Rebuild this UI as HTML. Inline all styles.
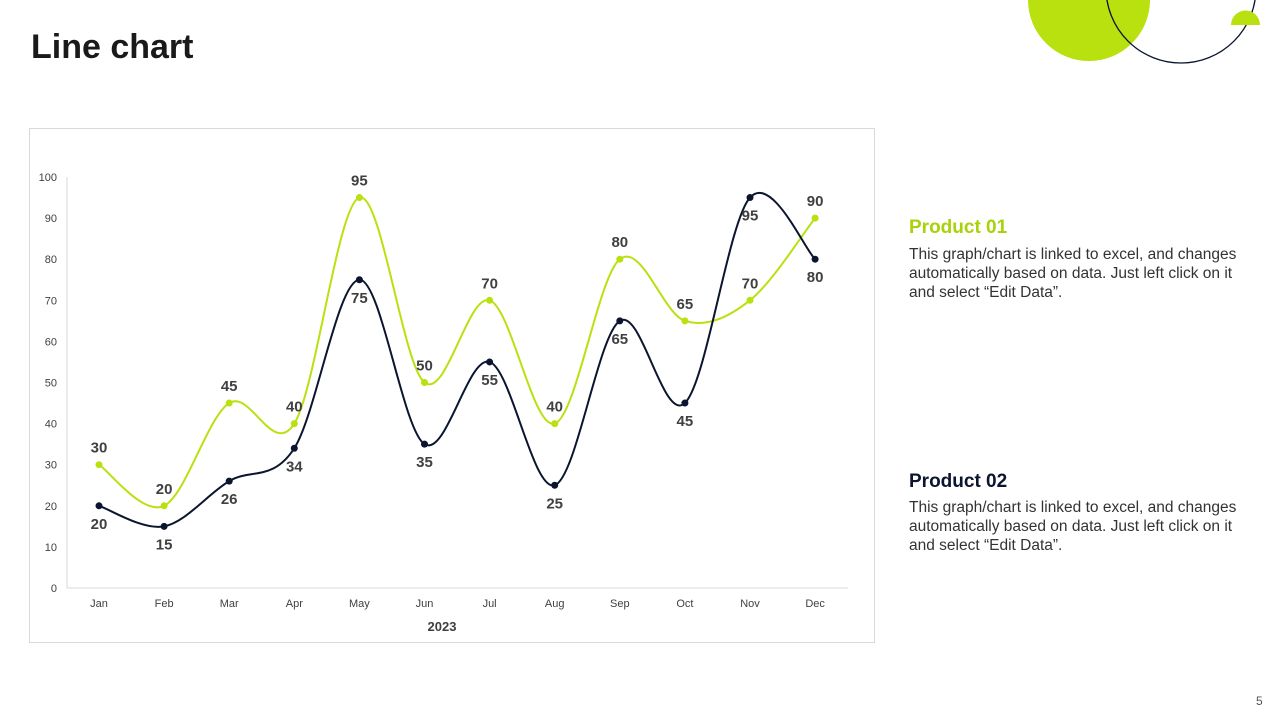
<!DOCTYPE html>
<html><head><meta charset="utf-8"><style>
body{margin:0;width:1280px;height:720px;background:#fff;font-family:"Liberation Sans",sans-serif;position:relative;overflow:hidden}
.t{position:absolute}
</style></head><body>
<svg class="t" style="left:0;top:0" width="1280" height="720">
<circle cx="1089" cy="0" r="61" fill="#b8e10f"/>
<circle cx="1181" cy="-12" r="75" fill="none" stroke="#0b1530" stroke-width="1.3"/>
<path d="M1231,25 A14.5,14.5 0 0 1 1260,25 Z" fill="#b8e10f"/>
</svg>
<div class="t" style="left:31px;top:28px;font-size:34px;font-weight:bold;color:#1a1a1a">Line chart</div>
<div class="t" style="left:29px;top:128px;width:846px;height:515px;border:1px solid #d9d9d9;box-sizing:border-box"></div>
<svg id="chart" class="t" style="left:0;top:0" width="1280" height="720"></svg>
<div class="t" style="left:909px;top:217px;font-size:19px;font-weight:bold;color:#a8d20a">Product 01</div>
<div class="t" style="left:909px;top:245px;width:345px;font-size:15.5px;line-height:19px;color:#333">This graph/chart is linked to excel, and changes automatically based on data. Just left click on it and select “Edit Data”.</div>
<div class="t" style="left:909px;top:471px;font-size:19px;font-weight:bold;color:#0b1530">Product 02</div>
<div class="t" style="left:909px;top:498px;width:345px;font-size:15.5px;line-height:19px;color:#333">This graph/chart is linked to excel, and changes automatically based on data. Just left click on it and select “Edit Data”.</div>
<div class="t" style="left:1256px;top:694px;font-size:12px;color:#555">5</div>
<script>
const categories=["Jan","Feb","Mar","Apr","May","Jun","Jul","Aug","Sep","Oct","Nov","Dec"];
const product01=[30,20,45,40,95,50,70,40,80,65,70,90];
const product02=[20,15,26,34,75,35,55,25,65,45,95,80];
const yTicks=[0,10,20,30,40,50,60,70,80,90,100];
const NS="http://www.w3.org/2000/svg";
const svg=document.getElementById('chart');
const X0=99,DX=65.1,Y0=588,YS=4.11;
const x=i=>X0+i*DX, y=v=>Y0-v*YS;
function el(t,a,txt){const e=document.createElementNS(NS,t);for(const k in a)e.setAttribute(k,a[k]);if(txt!=null)e.textContent=txt;svg.appendChild(e);return e;}
let e=el('line',{x1:67,x2:848,y1:588,y2:588,stroke:'#d9d9d9'});


e=el('line',{x1:67,x2:67,y1:177,y2:588,stroke:'#d9d9d9'});


yTicks.forEach(v=>{const t=el('text',{x:57,y:y(v)+4,'text-anchor':'end','font-size':11,fill:'#404040'},v);

});
categories.forEach((c,i)=>{const t=el('text',{x:x(i),y:607,'text-anchor':'middle','font-size':11,fill:'#404040'},c);

});
e=el('text',{x:442,y:631,'text-anchor':'middle','font-size':13,'font-weight':'bold',fill:'#404040'},'2023');


function path(vals){const p=vals.map((v,i)=>[x(i),y(v)]);let d=`M${p[0][0]},${p[0][1]}`;const k=0.5/3*2;
for(let i=0;i<p.length-1;i++){const a=p[Math.max(i-1,0)],b=p[i],c=p[i+1],n=p[Math.min(i+2,p.length-1)];
d+=` C${b[0]+(c[0]-a[0])*k/2},${b[1]+(c[1]-a[1])*k/2} ${c[0]-(n[0]-b[0])*k/2},${c[1]-(n[1]-b[1])*k/2} ${c[0]},${c[1]}`;}return d;}
function series(vals,col,name,above){
const l=el('path',{d:path(vals),fill:'none',stroke:col,'stroke-width':2});


vals.forEach((v,i)=>{const c=el('circle',{cx:x(i),cy:y(v),r:3.5,fill:col});


const t=el('text',{x:x(i),y:above?y(v)-12:y(v)+23,'text-anchor':'middle','font-size':15,'font-weight':'bold',fill:'#404040'},v);

});}
series(product01,'#b8e10f','product-01',true);
series(product02,'#0b1530','product-02',false);
</script>
</body></html>
